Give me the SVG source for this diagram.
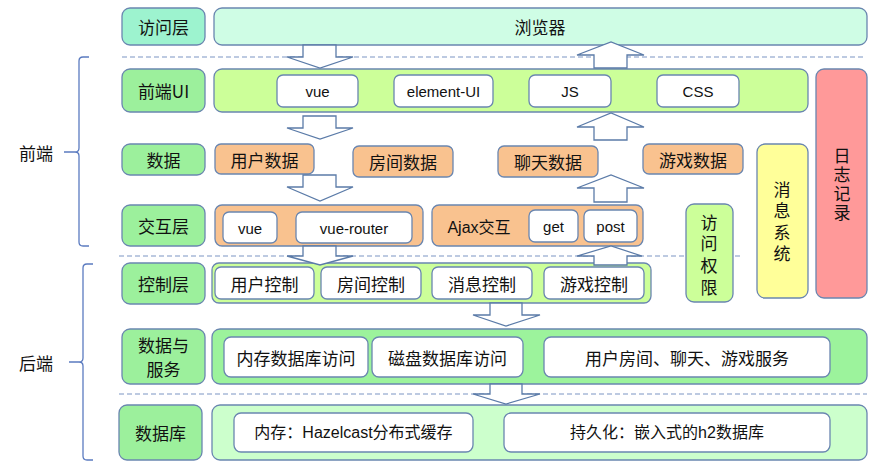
<svg xmlns="http://www.w3.org/2000/svg" width="896" height="475" viewBox="0 0 896 475">
<style>
text{font-family:"Noto Sans CJK SC","Liberation Sans",sans-serif;font-size:17px;fill:#111;text-anchor:middle;dominant-baseline:central}
.lat{font-family:"Liberation Sans","Noto Sans CJK SC",sans-serif;font-size:15px}
.mix{font-family:"Liberation Sans","Noto Sans CJK SC",sans-serif;font-size:16px}
rect{stroke:#6a86b0;stroke-width:1.3}
.lbl{fill:#9cf09c}
.w{fill:#fff}
.or{fill:#f9c28f}
.dash{stroke:#7d95c4;stroke-width:1.2;stroke-dasharray:5 3;fill:none}
.arr{fill:#fff;stroke:#5b7ba8;stroke-width:1.3}
.brace{fill:none;stroke:#5b7bc0;stroke-width:1.3}
.vert{writing-mode:vertical-rl;text-orientation:upright}
</style>
<g id="separators">
<line class="dash" x1="122" y1="57" x2="866" y2="57"/>
<line class="dash" x1="119" y1="256" x2="740" y2="256"/>
<line class="dash" x1="119" y1="394" x2="867" y2="394"/>
</g>
<g id="braces">
<path class="brace" d="M89 57 H83 Q79 57 79 61 V148 Q79 152 75 152 H64 H75 Q79 152 79 156 V242 Q79 246 83 246 H89"/>
<text x="36" y="152">前端</text>
<path class="brace" d="M93 264 H87 Q83 264 83 268 V358 Q83 362 79 362 H69 H79 Q83 362 83 366 V456 Q83 460 87 460 H93"/>
<text x="36" y="362">后端</text>
</g>
<g id="access">
<rect x="122" y="8" width="83" height="37" rx="8" fill="#9df3cf"/>
<text x="163.5" y="26.5">访问层</text>
</g>
<g id="browser">
<rect x="214" y="8" width="653" height="37" rx="8" fill="#cffde5"/>
<text x="540" y="26.5">浏览器</text>
</g>
<g id="frontend-ui">
<rect class="lbl" x="122" y="69" width="83" height="43" rx="8"/>
<text x="163.5" y="90.5">前端UI</text>
<rect x="214" y="69" width="594" height="43" rx="8" fill="#ccff99"/>
<rect class="w" x="277" y="75" width="81" height="32" rx="6"/>
<text class="lat" x="317.5" y="91">vue</text>
<rect class="w" x="394" y="75" width="99" height="32" rx="6"/>
<text class="lat" x="443.5" y="91">element-UI</text>
<rect class="w" x="529" y="75" width="82" height="32" rx="6"/>
<text class="lat" x="570" y="91">JS</text>
<rect class="w" x="657" y="75" width="82" height="32" rx="6"/>
<text class="lat" x="698" y="91">CSS</text>
</g>
<g id="log">
<rect x="816" y="69" width="51" height="229" rx="8" fill="#ff9999"/>
<text class="vert" x="842" y="185" font-size="19" letter-spacing="2">日志记录</text>
</g>
<g id="data">
<rect class="lbl" x="122" y="144" width="83" height="31" rx="8"/>
<text x="163.5" y="159.5">数据</text>
<rect class="or" x="215" y="144" width="99" height="30" rx="6"/>
<text x="264.5" y="159">用户数据</text>
<rect class="or" x="353" y="146" width="100" height="31" rx="6"/>
<text x="403" y="161.5">房间数据</text>
<rect class="or" x="498" y="146" width="100" height="31" rx="6"/>
<text x="548" y="161.5">聊天数据</text>
<rect class="or" x="643" y="144" width="100" height="30" rx="6"/>
<text x="693" y="159">游戏数据</text>
</g>
<g id="message">
<rect x="757" y="144" width="51" height="154" rx="8" fill="#ffff99"/>
<text class="vert" x="782" y="224" letter-spacing="4.5">消息系统</text>
</g>
<g id="interaction">
<rect class="lbl" x="122" y="205" width="83" height="41" rx="8"/>
<text x="163.5" y="225.5">交互层</text>
<rect class="or" x="215" y="205" width="208" height="41" rx="7"/>
<rect class="w" x="223" y="212" width="54" height="31" rx="6"/>
<text class="lat" x="250" y="228">vue</text>
<rect class="w" x="296" y="212" width="116" height="31" rx="6"/>
<text class="lat" x="354" y="228">vue-router</text>
<rect class="or" x="432" y="205" width="211" height="41" rx="7"/>
<text class="mix" x="479" y="227">Ajax交互</text>
<rect class="w" x="529" y="210" width="49" height="32" rx="6"/>
<text class="lat" x="553.5" y="226">get</text>
<rect class="w" x="584" y="210" width="53" height="32" rx="6"/>
<text class="lat" x="610.5" y="226">post</text>
</g>
<g id="permission">
<rect x="686" y="204" width="47" height="98" rx="8" fill="#ccff99"/>
<text class="vert" x="709" y="257" letter-spacing="4.7">访问权限</text>
</g>
<g id="control">
<rect class="lbl" x="122" y="263" width="83" height="41" rx="8"/>
<text x="163.5" y="283.5">控制层</text>
<rect x="212" y="263" width="439" height="40" rx="7" fill="#ccff99"/>
<rect class="w" x="215" y="267" width="99" height="32" rx="6"/>
<text x="264.5" y="283">用户控制</text>
<rect class="w" x="321" y="267" width="100" height="32" rx="6"/>
<text x="371" y="283">房间控制</text>
<rect class="w" x="432" y="267" width="100" height="32" rx="6"/>
<text x="482" y="283">消息控制</text>
<rect class="w" x="544" y="267" width="100" height="32" rx="6"/>
<text x="594" y="283">游戏控制</text>
</g>
<g id="service">
<rect class="lbl" x="122" y="329" width="83" height="55" rx="8"/>
<text x="163.5" y="344.5" font-size="16">数据与</text>
<text x="163.5" y="368.5" font-size="16">服务</text>
<rect x="212" y="329" width="655" height="55" rx="8" fill="#9cf39c"/>
<rect class="w" x="224" y="337" width="144" height="40" rx="7"/>
<text x="296" y="357">内存数据库访问</text>
<rect class="w" x="372" y="337" width="151" height="40" rx="7"/>
<text x="447.5" y="357">磁盘数据库访问</text>
<rect class="w" x="544" y="337" width="286" height="40" rx="7"/>
<text x="687" y="357">用户房间、聊天、游戏服务</text>
</g>
<g id="database">
<rect class="lbl" x="119" y="405" width="83" height="55" rx="8"/>
<text x="160.5" y="432.5">数据库</text>
<rect x="212" y="405" width="655" height="55" rx="8" fill="#ccffcc"/>
<rect class="w" x="234" y="413" width="239" height="39" rx="7"/>
<text class="mix" x="353.5" y="432.5">内存：Hazelcast分布式缓存</text>
<rect class="w" x="504" y="413" width="326" height="39" rx="7"/>
<text class="mix" x="667" y="432.5">持久化：嵌入式的h2数据库</text>
</g>
<g id="connectors">
<polygon class="arr" points="303,45 336,45 336,57 353,57 320,68 287,57 303,57"/>
<polygon class="arr" points="303,116 336,116 336,128 353,128 320,139 287,128 303,128"/>
<polygon class="arr" points="303,175 336,175 336,187 353,187 320,201 287,187 303,187"/>
<polygon class="arr" points="303,246 336,246 336,256 353,256 320,265 287,256 303,256"/>
<polygon class="arr" points="594,68 627,68 627,55 644,55 611,42 577,55 594,55"/>
<polygon class="arr" points="594,140 627,140 627,127 644,127 611,113 577,127 594,127"/>
<polygon class="arr" points="594,202 627,202 627,188 644,188 611,175 577,188 594,188"/>
<polygon class="arr" points="594,265 627,265 627,256 642,256 611,246 577,256 594,256"/>
<polygon class="arr" points="490,303 522,303 522,315 540,315 506,326 473,315 490,315"/>
<polygon class="arr" points="490,384 522,384 522,394 540,394 506,404 473,394 490,394"/>
</g>
</svg>
